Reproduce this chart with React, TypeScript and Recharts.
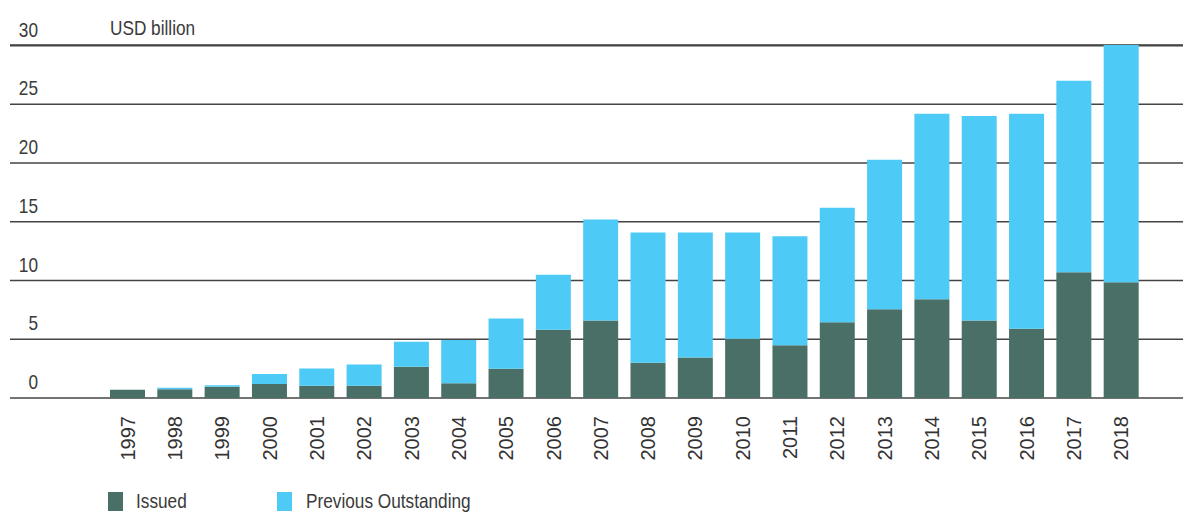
import React from 'react';
import { BarChart, Bar, XAxis, YAxis, CartesianGrid } from 'recharts';

const years = ['1997','1998','1999','2000','2001','2002','2003','2004','2005','2006','2007','2008','2009','2010','2011','2012','2013','2014','2015','2016','2017','2018'];
const issued = [0.7,0.75,0.95,1.2,1.05,1.05,2.65,1.25,2.5,5.8,6.6,3.0,3.45,5.05,4.5,6.45,7.55,8.4,6.6,5.9,10.7,9.85];
const previous = [0,0.13,0.13,0.85,1.47,1.81,2.13,3.68,4.27,4.7,8.6,11.08,10.63,9.03,9.26,9.75,12.73,15.8,17.4,18.3,16.3,20.2];
const yTicks = [0,5,10,15,20,25,30];

const data = years.map((y, i) => ({ year: y, issued: issued[i], previous: previous[i] }));

const DARK = '#4a6f66';
const BLUE = '#4dcaf5';
const SANS = '"Liberation Sans", Arial, sans-serif';
const SQ = 0.82;

const YTick = (props: any) => {
  const { y, payload } = props;
  return (
    <g>
      <text
        transform={`translate(38, ${y - 9}) scale(${SQ}, 1)`}
        textAnchor="end"
        fill="#3a3a3a"
        fontSize={21}
        fontFamily={SANS}
      >
        {payload.value}
      </text>
      {payload.value === 30 ? (
        <text
          transform={`translate(110, ${y - 11}) scale(${SQ}, 1)`}
          textAnchor="start"
          fill="#3a3a3a"
          fontSize={21}
          fontFamily={SANS}
        >
          USD billion
        </text>
      ) : null}
    </g>
  );
};

const XTick = (props: any) => {
  const { x, y, payload } = props;
  return (
    <text
      x={x}
      y={y}
      transform={`rotate(-90, ${x}, ${y})`}
      textAnchor="end"
      dominantBaseline="central"
      fill="#333"
      fontSize={20}
      fontFamily={SANS}
    >
      {payload.value}
    </text>
  );
};

const legendText: React.CSSProperties = {
  position: 'absolute',
  top: 489,
  fontFamily: SANS,
  fontSize: 21,
  color: '#3a3a3a',
  lineHeight: 'normal',
  whiteSpace: 'nowrap',
  transform: `scaleX(${SQ})`,
  transformOrigin: 'left top',
};

export default function App() {
  return (
    <div style={{ position: 'absolute', left: 0, top: 0, width: 1185, height: 513, background: '#fff', overflow: 'hidden' }}>
      <BarChart width={1185} height={513} data={data} margin={{ top: 45, right: 2, left: 0, bottom: 55 }}>
        <CartesianGrid vertical={false} stroke="#444" strokeWidth={1.6} />
        <XAxis
          dataKey="year"
          padding={{ left: 94, right: 38 }}
          axisLine={false}
          tickLine={false}
          tickSize={0}
          tickMargin={18}
          interval={0}
          height={60}
          tick={<XTick />}
        />
        <YAxis
          domain={[0, 30]}
          ticks={yTicks}
          width={10}
          axisLine={false}
          tickLine={false}
          tick={<YTick />}
        />
        <Bar dataKey="issued" stackId="a" fill={DARK} barSize={35} isAnimationActive={false} />
        <Bar dataKey="previous" stackId="a" fill={BLUE} barSize={35} isAnimationActive={false} />
      </BarChart>
      <span style={{ position: 'absolute', left: 108, top: 492, width: 15, height: 19, background: DARK }} />
      <span style={{ ...legendText, left: 136 }}>Issued</span>
      <span style={{ position: 'absolute', left: 277, top: 492, width: 15, height: 19, background: BLUE }} />
      <span style={{ ...legendText, left: 306 }}>Previous Outstanding</span>
    </div>
  );
}
